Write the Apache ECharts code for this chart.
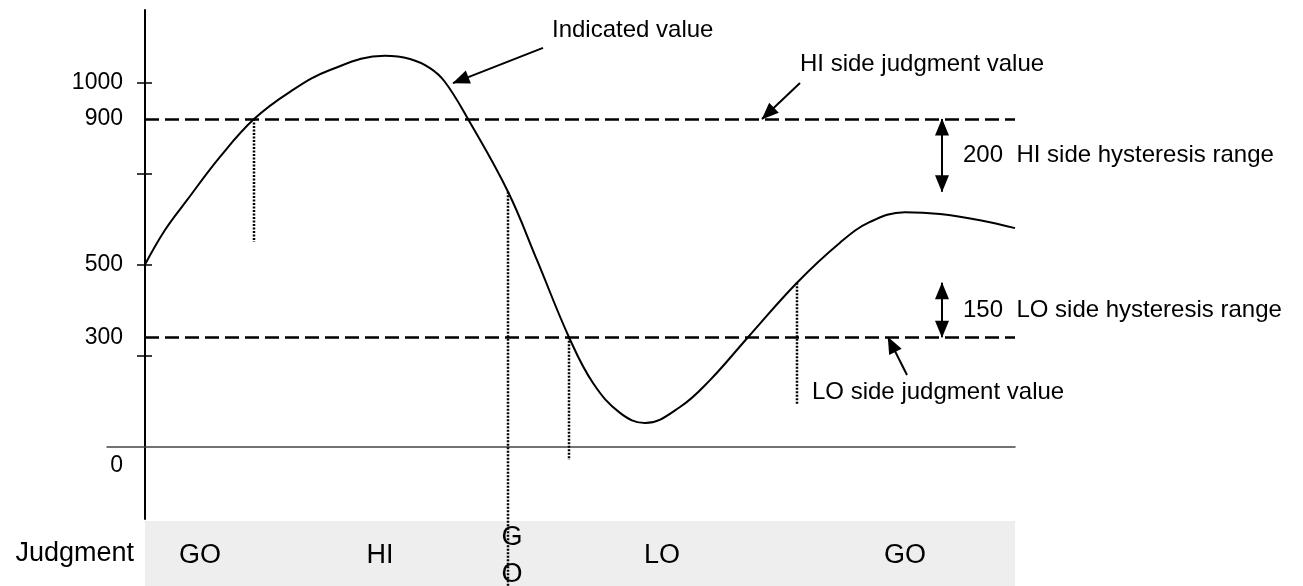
<!DOCTYPE html>
<html>
<head>
<meta charset="utf-8">
<script src="https://cdn.jsdelivr.net/npm/echarts@6/dist/echarts.min.js"></script>
<style>
  html, body { margin: 0; padding: 0; background: #fff; }
  #chart { width: 1303px; height: 586px; }
</style>
</head>
<body>
<div id="chart"></div>
<script>
// Indicated value over time (time in arbitrary units)
const timePoints = [0, 2.0, 4.2, 7.5, 10.9, 14.5, 18.5, 24, 26.5, 28.5, 30, 32.3, 36.3,
  39.2, 42.4, 44.8, 47.5, 50, 53.5, 56.5, 60.3, 65.2, 69.5, 72.5, 76, 79.5, 83.5, 87];
const indicatedValues = [500, 595, 677, 796, 900, 975, 1035, 1074, 1065, 1040, 1002, 900, 700,
  512, 300, 174, 92, 64, 108, 182, 300, 450, 560, 617, 644, 639, 622, 600];

// Judgment settings
const hiJudgment = 900;
const loJudgment = 300;
const hiHysteresis = 200;
const loHysteresis = 150;

// Times where the judgment switches, the level crossed, and how far the guide drops
const switchTimes = [10.9, 36.3, 42.4, 65.2];
const switchLevels = [hiJudgment, hiJudgment - hiHysteresis, loJudgment, loJudgment + loHysteresis];
const guideEnds = [562, -384, -38, 114];

// Judgment row
const judgmentNames = ['GO', 'HI', 'G\nO', 'LO', 'GO'];
const judgmentLabelTimes = [5.5, 23.5, 36.7, 51.7, 76];

// Y axis ticks and labels
const yTickValues = [1000, 750, 500, 250];
const yLabelValues = [1000, 900, 500, 300, 0];

// Time axis range (the zero line reaches a little left of the value axis)
const tMin = -3.8;
const tEnd = timePoints[timePoints.length - 1];

// Callout texts and their anchors (time, value)
const indicatedText = 'Indicated value';
const indicatedAnchor = [40.7, 1144];
const indicatedArrow = [[39.8, 1096], [30.8, 999]];
const hiText = 'HI side judgment value';
const hiAnchor = [65.5, 1051];
const hiArrow = [[65.5, 999], [61.7, hiJudgment]];
const loText = 'LO side judgment value';
const loAnchor = [66.7, 149];
const loArrow = [[76.2, 196], [74.3, loJudgment]];
const hysteresisTime = 79.7;
const hysteresisTextTime = 81.8;
const hiHystText = hiHysteresis + '  HI side hysteresis range';
const loHystText = loHysteresis + '  LO side hysteresis range';

const FONT = "'Liberation Sans', Arial, Helvetica, sans-serif";

const W = 1303;
const gridLeft = 107, gridRight = 288;
const gridWidth = W - gridLeft - gridRight;
// shift the value axis so it sits at time 0
const yAxisOffset = -((0 - tMin) / (tEnd - tMin)) * gridWidth;

const chart = echarts.init(document.getElementById('chart'), null, { renderer: 'canvas' });

const guideSeries = switchTimes.map((t, i) => ({
  type: 'line',
  xAxisIndex: 0, yAxisIndex: 0,
  data: [[t, switchLevels[i]], [t, guideEnds[i]]],
  symbol: 'none',
  clip: false,
  silent: true,
  z: 4,
  lineStyle: { color: '#000', width: 2.5, type: [2, 1.5] }
}));

const option = {
  animation: false,
  backgroundColor: '#fff',
  textStyle: { fontFamily: FONT },
  grid: [
    { left: gridLeft, right: gridRight, top: 10, bottom: 67 },
    { left: 145, right: gridRight, top: 521, bottom: 0, show: true, backgroundColor: '#eeeeee', borderWidth: 0 }
  ],
  xAxis: [
    {
      type: 'value', gridIndex: 0, min: tMin, max: tEnd,
      axisLine: { onZero: true, lineStyle: { color: '#444', width: 1.5 } },
      axisTick: { show: false }, axisLabel: { show: false }, splitLine: { show: false }
    },
    {
      type: 'value', gridIndex: 1, min: 0, max: tEnd, show: false
    }
  ],
  yAxis: [
    {
      type: 'value', gridIndex: 0, position: 'left', offset: yAxisOffset, min: -200, max: 1200,
      axisLine: { onZero: false, lineStyle: { color: '#000', width: 2 } },
      axisTick: { show: true, length: 8, lineStyle: { color: '#000', width: 1.5 }, customValues: yTickValues },
      axisLabel: {
        customValues: yLabelValues,
        color: '#000', fontSize: 23, fontFamily: FONT, margin: 22,
        formatter: v => (v === 0 ? '{z|0}' : String(v)),
        rich: { z: { fontSize: 23, fontFamily: FONT, color: '#000', padding: [38, 0, 0, 0] } }
      },
      splitLine: { show: false }
    },
    {
      // inner half of the crossing ticks
      type: 'value', gridIndex: 0, position: 'left', offset: yAxisOffset, min: -200, max: 1200,
      axisLine: { show: false, onZero: false },
      axisTick: { show: true, inside: true, length: 7, lineStyle: { color: '#000', width: 1.5 }, customValues: yTickValues },
      axisLabel: { show: false },
      splitLine: { show: false }
    },
    {
      type: 'category', gridIndex: 1, data: ['Judgment'],
      axisLine: { show: false }, axisTick: { show: false }, splitLine: { show: false },
      axisLabel: { color: '#000', fontSize: 27, fontFamily: FONT, margin: 11 }
    }
  ],
  series: [
    {
      type: 'line',
      name: 'Indicated value',
      xAxisIndex: 0, yAxisIndex: 0,
      data: timePoints.map((t, i) => [t, indicatedValues[i]]),
      smooth: 0.4,
      symbol: 'none',
      z: 5,
      lineStyle: { color: '#000', width: 2 },
      markLine: {
        silent: true,
        symbol: 'none',
        label: { show: false },
        lineStyle: { color: '#000', width: 2.5, type: [14, 6] },
        data: [
          [{ coord: [0, hiJudgment] }, { coord: [tEnd, hiJudgment] }],
          [{ coord: [0, loJudgment] }, { coord: [tEnd, loJudgment] }]
        ]
      }
    },
    ...guideSeries,
    {
      // callout arrows
      type: 'line',
      xAxisIndex: 0, yAxisIndex: 0,
      data: [],
      markLine: {
        silent: true,
        label: { show: false },
        lineStyle: { color: '#000', width: 2, type: 'solid' },
        symbol: ['none', 'triangle'],
        symbolSize: [14, 17],
        symbolOffset: [[0, 8], [0, 8]],
        data: [
          [{ coord: indicatedArrow[0] }, { coord: indicatedArrow[1] }],
          [{ coord: hiArrow[0] }, { coord: hiArrow[1] }],
          [{ coord: loArrow[0] }, { coord: loArrow[1] }],
          [{ coord: [hysteresisTime, hiJudgment], symbol: 'triangle' }, { coord: [hysteresisTime, hiJudgment - hiHysteresis] }],
          [{ coord: [hysteresisTime, loJudgment], symbol: 'triangle' }, { coord: [hysteresisTime, loJudgment + loHysteresis] }]
        ]
      }
    }
  ]
};

chart.setOption(option);

// Texts are placed on whole pixels (from the axis scales) so they stay crisp
const px = (gridIndex, pt) => chart.convertToPixel({ gridIndex }, pt).map(Math.round);

const callouts = [
  [indicatedAnchor, indicatedText],
  [hiAnchor, hiText],
  [loAnchor, loText],
  [[hysteresisTextTime, hiJudgment - hiHysteresis / 2], hiHystText],
  [[hysteresisTextTime, loJudgment + loHysteresis / 2], loHystText]
].map(([pos, text]) => {
  const p = px(0, pos);
  return {
    type: 'text', x: p[0], y: p[1], silent: true, z: 10,
    style: { text, fill: '#000', fontSize: 24, fontFamily: FONT, align: 'left', verticalAlign: 'middle' }
  };
});

const bandRect = chart.getModel().getComponent('grid', 1).coordinateSystem.getRect();
const bandMid = Math.round(bandRect.y + bandRect.height / 2) + 2;
const judgmentTexts = judgmentNames.map((name, i) => {
  const p = px(1, [judgmentLabelTimes[i], 'Judgment']);
  return {
    type: 'text', x: p[0], y: bandMid, silent: true, z: 10,
    style: { text: name, fill: '#000', fontSize: 27, fontFamily: FONT, lineHeight: 37, align: 'center', verticalAlign: 'middle' }
  };
});

chart.setOption({ graphic: callouts.concat(judgmentTexts) });
</script>
</body>
</html>
